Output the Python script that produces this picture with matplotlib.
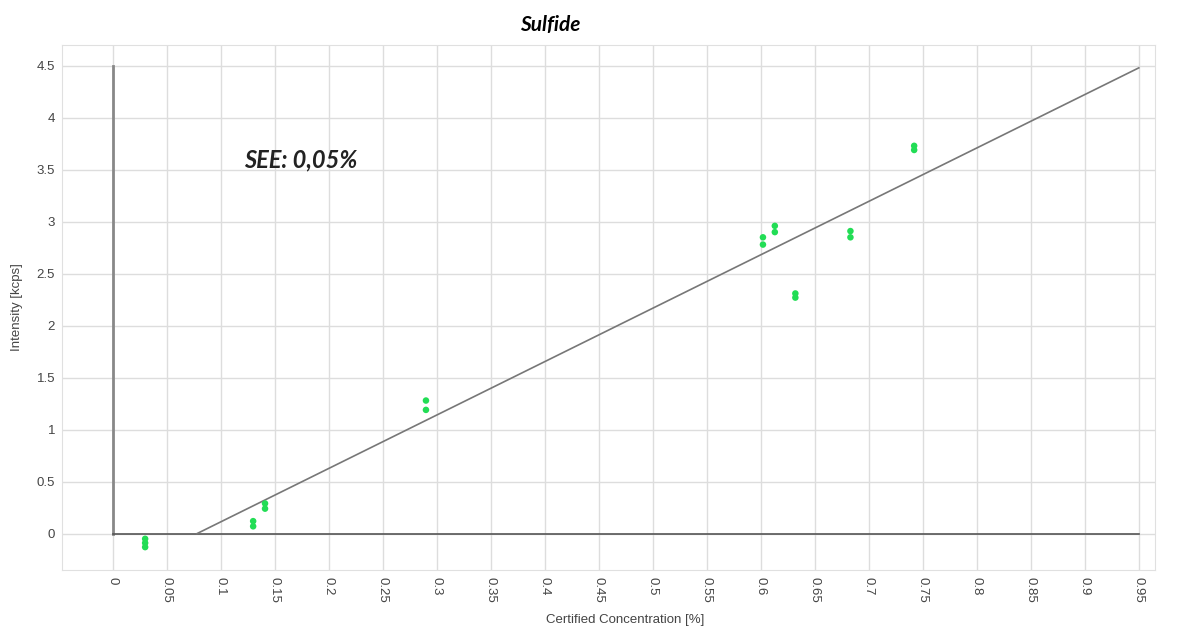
import numpy as np
import matplotlib
matplotlib.use("Agg")
import matplotlib.pyplot as plt

# measured points (certified conc %, intensity kcps)
conc = [0.03, 0.03, 0.03, 0.13, 0.13, 0.141, 0.141, 0.29, 0.29,
        0.602, 0.602, 0.613, 0.613, 0.632, 0.632, 0.683, 0.683, 0.742, 0.742]
intensity = [-0.05, -0.09, -0.13, 0.07, 0.12, 0.24, 0.29, 1.19, 1.28,
             2.78, 2.85, 2.90, 2.96, 2.27, 2.31, 2.85, 2.91, 3.69, 3.73]

# calibration line end points
line_x = [0.078, 0.95]
line_y = [0.0, 4.48]

xticks = np.round(np.arange(0, 0.951, 0.05), 2)
xtick_labels = ["0" if v == 0 else f"{v:g}" for v in xticks]
yticks = np.round(np.arange(0, 4.51, 0.5), 1)
ytick_labels = [f"{v:g}" for v in yticks]

fig = plt.figure(figsize=(11.85, 6.29), dpi=100)
ax = fig.add_axes([0.0523, 0.0938, 0.9224, 0.8347])

ax.set_xlim(-0.047, 0.965)
ax.set_ylim(-0.35, 4.7)

ax.set_xticks(xticks)
ax.set_xticklabels(xtick_labels, rotation=270, fontsize=9.5, color="#444444",
                   family="Liberation Sans")
ax.set_yticks(yticks)
ax.set_yticklabels(ytick_labels, fontsize=9.5, color="#444444",
                   family="Liberation Sans")
ax.tick_params(axis="x", length=0, pad=5)
ax.tick_params(axis="y", length=0, pad=5)
ax.grid(True, color="#dddddd", linewidth=1)
ax.set_axisbelow(True)
for s in ax.spines.values():
    s.set_color("#e0e0e0")

# axis lines at x=0 and y=0
ax.plot([0, 0], [0, 4.5], color="#888888", linewidth=2, zorder=2)
ax.plot([0, 0.95], [0, 0], color="#555555", linewidth=1.2, zorder=2)

ax.plot(line_x, line_y, color="#777777", linewidth=1.2, zorder=3)
ax.scatter(conc, intensity, s=22, color="#22dd55", edgecolors="none", zorder=4)

ax.set_xlabel("Certified Concentration [%]", fontsize=9.5, color="#444444",
              family="Liberation Sans")
ax.xaxis.set_label_coords(0.515, -0.083)
ax.set_ylabel("Intensity [kcps]", fontsize=9.5, color="#444444",
              family="Liberation Sans")
ax.yaxis.set_label_coords(-0.036, 0.5)

fig.text(0.464, 0.96, "Sulfide", fontsize=15, fontweight="bold",
         fontstyle="italic", family="Lato", ha="center", va="center")
ax.text(0.122, 3.59, "SEE: 0,05%", fontsize=17, fontweight="bold",
        fontstyle="italic", family="Lato", ha="left", va="center",
        color="#222222")

fig.savefig("out.png", dpi=100)
